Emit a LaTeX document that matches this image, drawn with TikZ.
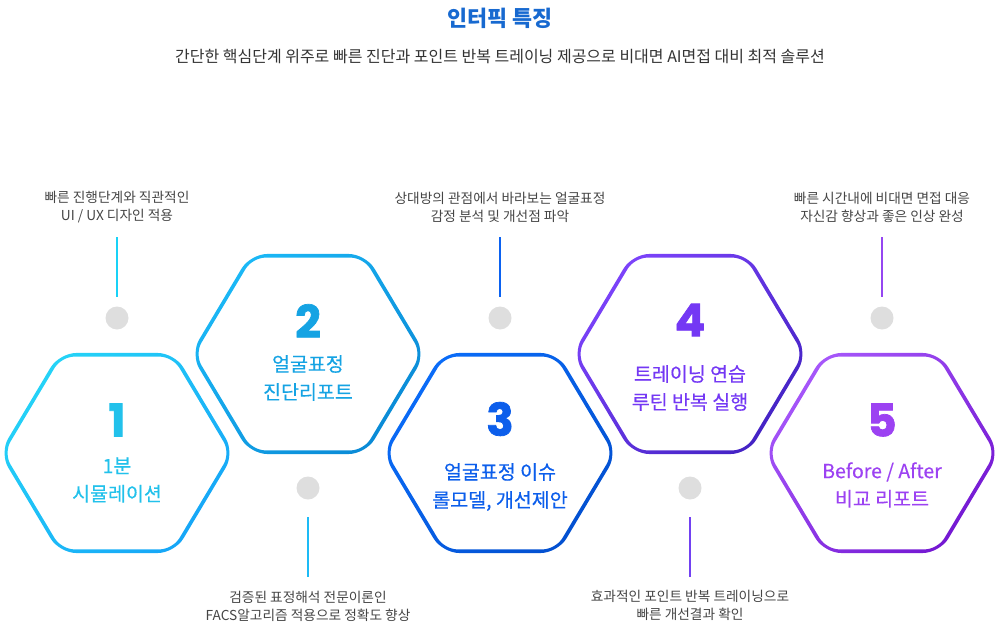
\documentclass[tikz,border=0pt]{standalone}
\usepackage{fontspec}
\setmainfont{Noto Sans CJK KR}
\newfontfamily\numfont{Poppins}[BoldFeatures={FakeBold=1.6}]
\newfontfamily\medfont{Noto Sans CJK KR}[FakeBold=0.4]
\definecolor{hAa}{HTML}{25D3F7}\definecolor{hAb}{HTML}{16A6F7}
\definecolor{hBa}{HTML}{1BB8F6}\definecolor{hBb}{HTML}{0A8AD6}
\definecolor{hCa}{HTML}{0A6CF8}\definecolor{hCb}{HTML}{0350D0}
\definecolor{hDa}{HTML}{7C43FA}\definecolor{hDb}{HTML}{4423C4}
\definecolor{hEa}{HTML}{A657FA}\definecolor{hEb}{HTML}{7418D2}
\definecolor{tA}{HTML}{22C1EB}\definecolor{tB}{HTML}{15A3E3}
\definecolor{tC}{HTML}{0C5EEB}\definecolor{tD}{HTML}{7438F4}
\definecolor{tE}{HTML}{9C42F2}
\definecolor{lA}{HTML}{19D2F7}\definecolor{lB}{HTML}{1DBBF6}
\definecolor{lC}{HTML}{0B62F1}\definecolor{lD}{HTML}{7241F2}
\definecolor{lE}{HTML}{9546F1}
\definecolor{titleblue}{HTML}{1769D0}
\definecolor{subgray}{HTML}{333333}
\definecolor{notegray}{HTML}{454545}
\definecolor{dotgray}{HTML}{DEDEDE}
\newcommand\Ro{115.5}\newcommand\Ho{100.0}\newcommand\So{117.5}
\newcommand\Ri{111.3}\newcommand\Hi{96.4}\newcommand\Si{113.3}
\newcommand\hexring[5]{%
  \coordinate (#1) at (#2,#3);
  \begin{scope}[shift={(#1)}]
    \shade[top color=#4,bottom color=#5,shading angle=45,even odd rule]
      {[rounded corners=17] (90:\Ho) -- (60:\Ro) -- (0:\So) -- (-60:\Ro) -- (-120:\Ro) -- (180:\So) -- (120:\Ro) -- cycle}
      {[rounded corners=13] (90:\Hi) -- (60:\Ri) -- (0:\Si) -- (-60:\Ri) -- (-120:\Ri) -- (180:\Si) -- (120:\Ri) -- cycle};
  \end{scope}}
\begin{document}
\begin{tikzpicture}[x=1pt,y=-1pt,
  numst/.style={font=\numfont\bfseries\fontsize{45}{45}\selectfont,inner sep=0pt},
  lblst/.style={font=\medfont\fontsize{19.5}{28}\selectfont,align=center,inner sep=0pt},
  notest/.style={font=\fontsize{13.7}{18}\selectfont,align=center,inner sep=0pt,text=notegray},
  dotst/.style={circle,fill=dotgray,minimum size=23pt,inner sep=0pt},
  tick/.style={line width=2.6pt}]
\useasboundingbox (0,0) rectangle (1000,623);
% title
\node[font=\bfseries\fontsize{21.8}{22}\selectfont,text=titleblue,inner sep=0pt] (title) at (500,18) {인터픽 특징};
\node[font=\fontsize{16}{16}\selectfont,text=subgray,inner sep=0pt] (sub) at (500,57) {간단한 핵심단계 위주로 빠른 진단과 포인트 반복 트레이닝 제공으로 비대면 AI면접 대비 최적 솔루션};
% hexagons
\hexring{h1}{117}{453}{hAa}{hAb}
\hexring{h2}{308}{354}{hBa}{hBb}
\hexring{h3}{500}{453}{hCa}{hCb}
\hexring{h4}{690}{354}{hDa}{hDb}
\hexring{h5}{882}{453}{hEa}{hEb}
% numbers and labels
\node[numst,text=tA] (n1) at (117,420) {1};
\node[lblst,text=tA] (l1) at (117,480) {1분\\시뮬레이션};
\node[numst,text=tB] (n2) at (308,321) {2};
\node[lblst,text=tB] (l2) at (308,378) {얼굴표정\\진단리포트};
\node[numst,text=tC] (n3) at (500,419) {3};
\node[lblst,text=tC] (l3) at (500,487) {얼굴표정 이슈\\롤모델, 개선제안};
\node[numst,text=tD] (n4) at (690,320) {4};
\node[lblst,text=tD] (l4) at (690,388) {트레이닝 연습\\루틴 반복 실행};
\node[numst,text=tE] (n5) at (882,420) {5};
\node[lblst,text=tE] (l5) at (882,485) {Before / After\\비교 리포트};
% dots
\node[dotst] (d1) at (117,318) {};
\node[dotst] (d2) at (308,488) {};
\node[dotst] (d3) at (500,318) {};
\node[dotst] (d4) at (690,488) {};
\node[dotst] (d5) at (882,318) {};
% notes
\node[notest] (t1) at (117,207) {빠른 진행단계와 직관적인\\UI / UX 디자인 적용};
\node[notest] (t3) at (500,207) {상대방의 관점에서 바라보는 얼굴표정\\감정 분석 및 개선점 파악};
\node[notest] (t5) at (882,207) {빠른 시간내에 비대면 면접 대응\\자신감 향상과 좋은 인상 완성};
\node[notest] (t2) at (308,606) {검증된 표정해석 전문이론인\\FACS알고리즘 적용으로 정확도 향상};
\node[notest] (t4) at (690,605) {효과적인 포인트 반복 트레이닝으로\\빠른 개선결과 확인};
% ticks
\coordinate (a1) at (117,237); \coordinate (b1) at (117,297);
\coordinate (a3) at (500,237); \coordinate (b3) at (500,297);
\coordinate (a5) at (882,237); \coordinate (b5) at (882,297);
\coordinate (a2) at (308,517); \coordinate (b2) at (308,577);
\coordinate (a4) at (690,517); \coordinate (b4) at (690,577);
\draw[tick,lA] (a1) -- (b1);
\draw[tick,lC] (a3) -- (b3);
\draw[tick,lE] (a5) -- (b5);
\draw[tick,lB] (a2) -- (b2);
\draw[tick,lD] (a4) -- (b4);
\end{tikzpicture}
\end{document}
